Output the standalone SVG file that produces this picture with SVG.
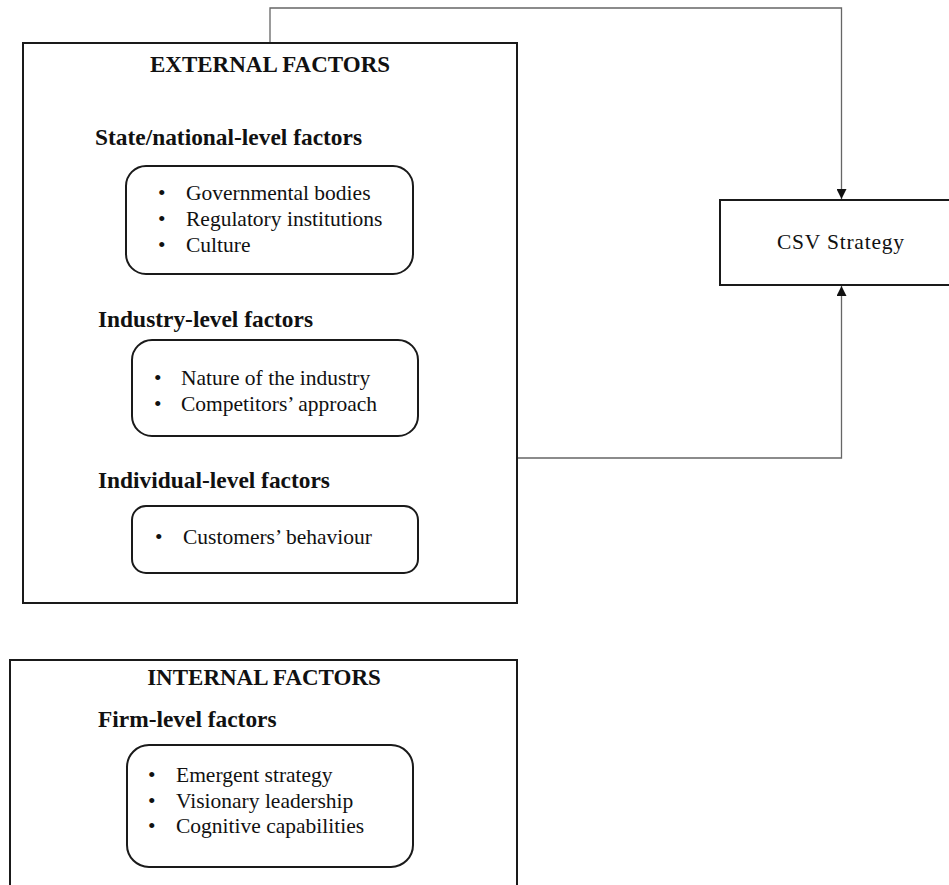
<svg xmlns="http://www.w3.org/2000/svg" width="949" height="885" viewBox="0 0 949 885">
<style>
.box{fill:#fff;stroke:#1a1a1a;stroke-width:2}
.rbox{fill:#fff;stroke:#1a1a1a;stroke-width:2}
.title{font-family:"Liberation Serif","Times New Roman",serif;font-weight:bold;font-size:23px;fill:#111;text-anchor:middle}
.head{font-family:"Liberation Serif","Times New Roman",serif;font-weight:bold;font-size:23.4px;fill:#111}
.item{font-family:"Liberation Serif","Times New Roman",serif;font-size:21.5px;fill:#111}
.conn{fill:none;stroke:#666;stroke-width:1.3}
</style>
<defs>
<marker id="arr" viewBox="0 0 10 10" refX="10" refY="5" markerWidth="10" markerHeight="10" markerUnits="userSpaceOnUse" orient="auto">
<path d="M0,0 L10,5 L0,10 z" fill="#111"/>
</marker>
</defs>
<rect width="949" height="885" fill="#fff"/>
<g id="connectors">
<path class="conn" d="M270,43 V8 H841.5 V199" marker-end="url(#arr)"/>
<path class="conn" d="M517,458 H841.5 V286" marker-end="url(#arr)"/>
</g>
<g id="external">
<rect class="box" x="23" y="43" width="494" height="560"/>
<text class="title" x="270" y="72">EXTERNAL FACTORS</text>
</g>
<g id="state-level">
<text class="head" x="95" y="145">State/national-level factors</text>
<rect class="rbox" x="126" y="166" width="287" height="108" rx="20"/>
<text class="item" x="158" y="200">•</text><text class="item" x="186" y="200">Governmental bodies</text>
<text class="item" x="158" y="226">•</text><text class="item" x="186" y="226">Regulatory institutions</text>
<text class="item" x="158" y="252">•</text><text class="item" x="186" y="252">Culture</text>
</g>
<g id="industry-level">
<text class="head" x="98" y="327">Industry-level factors</text>
<rect class="rbox" x="132" y="340" width="286" height="96" rx="20"/>
<text class="item" x="154" y="385">•</text><text class="item" x="181" y="385">Nature of the industry</text>
<text class="item" x="154" y="411">•</text><text class="item" x="181" y="411">Competitors’ approach</text>
</g>
<g id="individual-level">
<text class="head" x="98" y="488">Individual-level factors</text>
<rect class="rbox" x="132" y="506" width="286" height="67" rx="14"/>
<text class="item" x="155" y="544">•</text><text class="item" x="183" y="544">Customers’ behaviour</text>
</g>
<g id="internal">
<rect class="box" x="10" y="660" width="507" height="240"/>
<text class="title" x="264" y="685">INTERNAL FACTORS</text>
</g>
<g id="firm-level">
<text class="head" x="98" y="727">Firm-level factors</text>
<rect class="rbox" x="127" y="745" width="286" height="122" rx="22"/>
<text class="item" x="148" y="782">•</text><text class="item" x="176" y="782">Emergent strategy</text>
<text class="item" x="148" y="808">•</text><text class="item" x="176" y="808">Visionary leadership</text>
<text class="item" x="148" y="833">•</text><text class="item" x="176" y="833">Cognitive capabilities</text>
</g>
<g id="csv">
<rect class="box" x="720" y="200" width="240" height="85"/>
<text class="item" x="777" y="249" font-size="20" textLength="127" lengthAdjust="spacing">CSV Strategy</text>
</g>
</svg>
